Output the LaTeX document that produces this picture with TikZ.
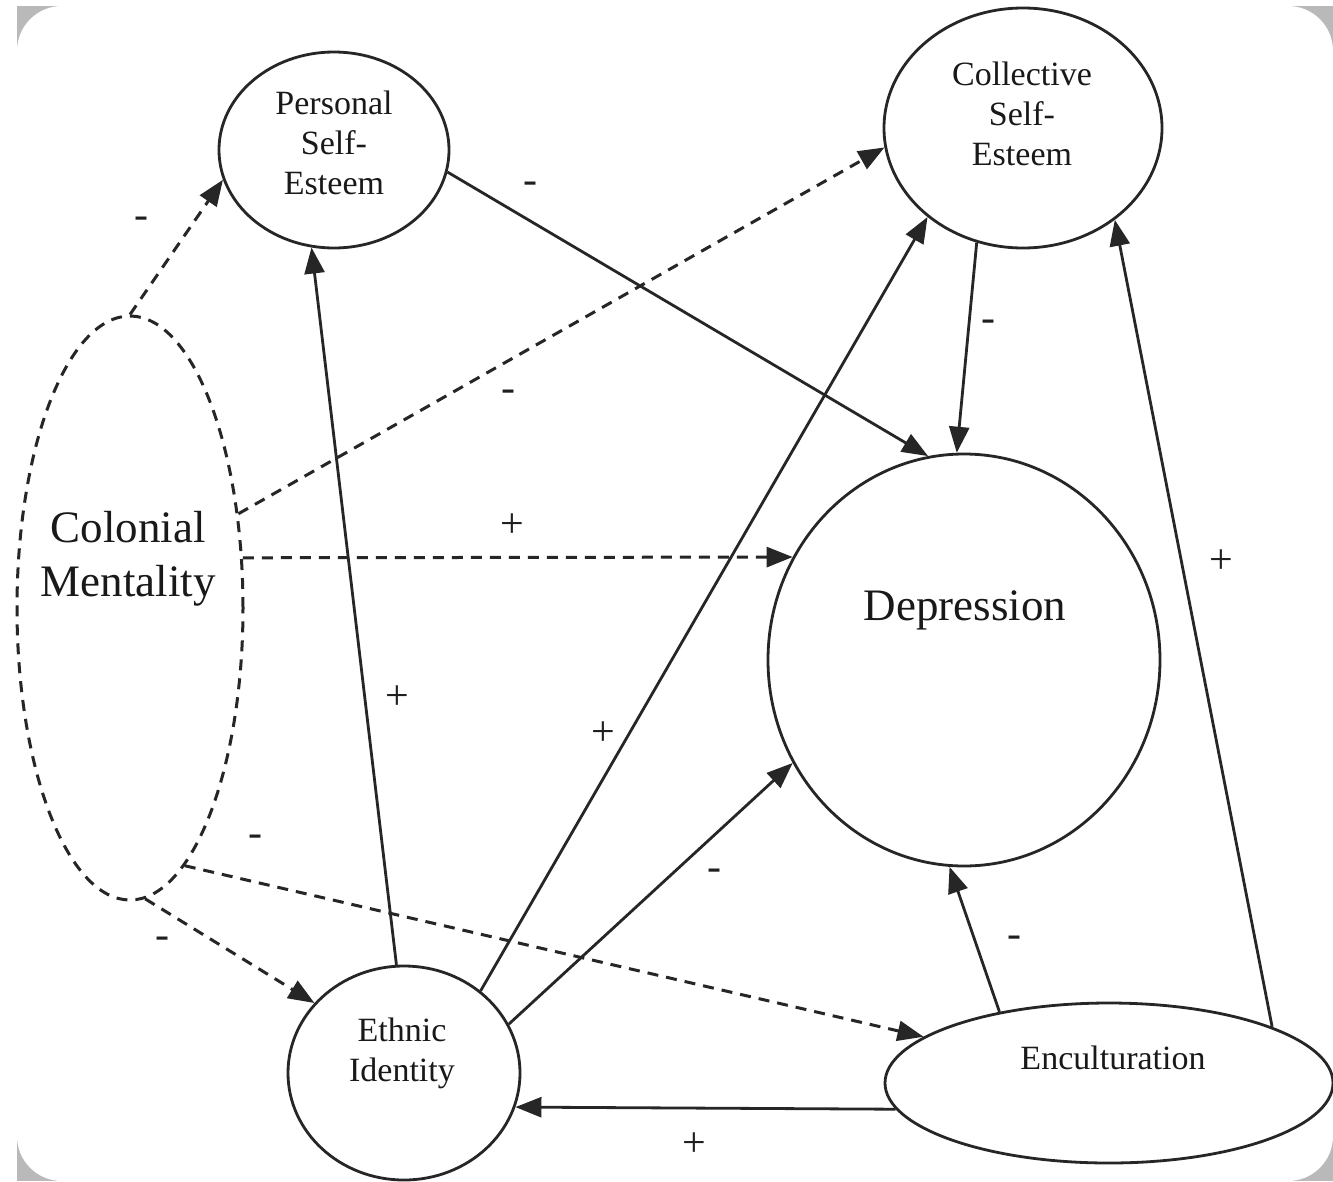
\documentclass[tikz,border=0pt]{standalone}
\usepackage{fontspec}
\setmainfont{Liberation Serif}
\usetikzlibrary{shapes.geometric,arrows.meta}
\begin{document}
\begin{tikzpicture}[x=1pt,y=-1pt,
  var/.style={draw=black!85, line width=2.8pt, ellipse, inner sep=0pt},
  lbl/.style={align=center, inner sep=0pt, text=black!90},
  small/.style={lbl, font=\fontsize{34}{40}\selectfont},
  big/.style={lbl, font=\fontsize{45}{54}\selectfont},
  sign/.style={inner sep=0pt, text=black!88, font=\fontsize{42}{42}\selectfont},
  conn/.style={draw=black!85, line width=2.8pt, -{Triangle[length=26pt,width=20pt]}},
  dconn/.style={conn, line width=3pt, dash pattern=on 11pt off 8pt}
]
\useasboundingbox (0,0) rectangle (1333,1181);
\fill[gray!55] (17,6) rectangle (1333,1181);
\fill[white, rounded corners=45pt] (17,6) rectangle (1333,1181);

% variables
\node[var, line width=3pt, dash pattern=on 11pt off 8pt, minimum width=226pt, minimum height=584pt] (cm) at (130,608) {};
\node[var, minimum width=230pt, minimum height=196pt] (pse) at (334,150) {};
\node[var, minimum width=278pt, minimum height=240pt] (cse) at (1023,128) {};
\node[var, minimum width=392pt, minimum height=412pt] (dep) at (964,660) {};
\node[var, minimum width=232pt, minimum height=214pt] (eth) at (404,1073) {};
\node[var, minimum width=448pt, minimum height=160pt] (enc) at (1109,1083) {};

% texts
\node[big] (cmt) at (128,559) {Colonial\\Mentality};
\node[small] (pset) at (334,143) {Personal\\Self-\\Esteem};
\node[small] (cset) at (1022,114) {Collective\\Self-\\Esteem};
\node[big] (dept) at (965,610) {Depression};
\node[small] (etht) at (402,1053) {Ethnic\\Identity};
\node[small] (enct) at (1113,1058) {Enculturation};

% connectors
\draw[dconn] (cm.90) -- (pse.195.7);
\draw[dconn] (cm.41.9) -- (cse.188.2);
\draw[dconn] (cm.24.7) -- (dep.149.4);
\draw[dconn] (cm.282.9) -- (enc.166.8);
\draw[dconn] (cm.273.6) -- (eth.142.3);
\draw[conn] (pse.349) -- (dep.100);
\draw[conn] (cse.248.6) -- (dep.92.75);
\draw[conn] (eth.94.9) -- (pse.257.8);
\draw[conn] (eth.47.6) -- (cse.223.1);
\draw[conn] (eth.25) -- (dep.211.6);
\draw[conn] (enc.147.8) -- (dep.266.9);
\draw[conn] (enc.19.8) -- (cse.315.6);
\draw[conn] (enc.187.3) -- (eth.343.9);

% signs
\node[sign] (s1) at (141,223) {-};
\node[sign] (s2) at (530,188) {-};
\node[sign] (s3) at (508,396) {-};
\node[sign] (s4) at (988,326) {-};
\node[sign] (s5) at (512,526) {+};
\node[sign] (s6) at (1221,562) {+};
\node[sign] (s7) at (397,698) {+};
\node[sign] (s8) at (603,734) {+};
\node[sign] (s9) at (255,841) {-};
\node[sign] (s10) at (714,875) {-};
\node[sign] (s11) at (162,943) {-};
\node[sign] (s12) at (1014,942) {-};
\node[sign] (s13) at (694,1145) {+};
\end{tikzpicture}
\end{document}
